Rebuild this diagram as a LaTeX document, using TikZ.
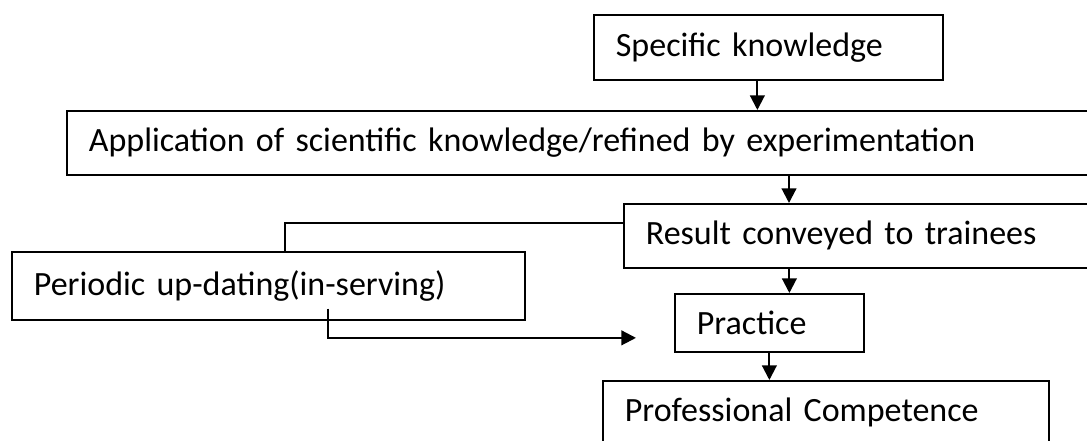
\documentclass[tikz,border=0pt]{standalone}
\usepackage{fontspec}
\setmainfont{Carlito}
\usetikzlibrary{arrows.meta, positioning, calc}
\newdimen\pxu
\pxu=0.75pt

\begin{document}
\begin{tikzpicture}[
  x=0.75pt, y=-0.75pt,
  stage/.style={rectangle, draw, line width=1.3pt, anchor=north west,
                inner xsep=22\pxu, inner ysep=0pt, align=left,
                font=\fontsize{25.5}{30}\selectfont},
  arrow/.style={-{Triangle[width=11pt, length=11pt]}, line width=1.6pt},
  link/.style={line width=1.5pt},
]
\useasboundingbox (0,0) rectangle (1087,441);
\clip (0,0) rectangle (1087,441);

\node[stage, text width=305\pxu, minimum height=65\pxu] (spec) at (593,14)
  {Specific knowledge};

\node[stage, text width=990\pxu, minimum height=64\pxu] (app) at (66,110)
  {Application of scientific knowledge/refined by experimentation};

\node[stage, text width=433\pxu, minimum height=64\pxu] (result) at (623,203)
  {Result conveyed to trainees};

\node[stage, text width=469\pxu, minimum height=68\pxu] (periodic) at (11,251)
  {Periodic up-dating(in-serving)};

\node[stage, text width=145\pxu, minimum height=58\pxu] (practice) at (674,293)
  {Practice};

\node[stage, text width=402\pxu, minimum height=64\pxu] (prof) at (602,380)
  {Professional Competence};

\coordinate (specout) at ([xshift=-11\pxu]spec.south);
\coordinate (resin)   at ([xshift=166\pxu]result.north west);
\coordinate (pracin)  at ([xshift=20\pxu]practice.north);
\coordinate (upfrom)  at ([xshift=17\pxu]periodic.north);
\coordinate (resside) at ([yshift=13\pxu]result.west);
\coordinate (downfrom) at ([xshift=60\pxu, yshift=12\pxu]periodic.south);
\coordinate (pend)    at ([xshift=-38\pxu, yshift=-15\pxu]practice.west);

% ---- links ----
\draw[arrow] (specout) -- (specout |- app.north);
\draw[arrow] (resin |- app.south) -- (resin);
\draw[arrow] (pracin |- result.south) -- (pracin);
\draw[arrow] (practice.south) -- (practice.south |- prof.north);
\draw[link] (upfrom) |- (resside);
\draw[arrow] (downfrom) |- (pend);

\end{tikzpicture}
\end{document}
